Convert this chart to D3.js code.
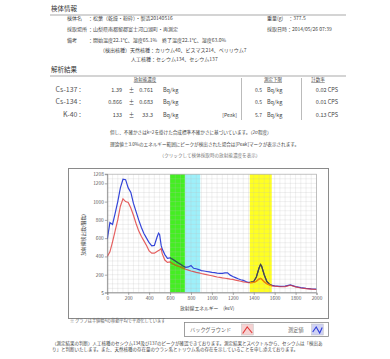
<!DOCTYPE html>
<html><head><meta charset="utf-8">
<script src="https://cdn.jsdelivr.net/npm/d3@7"></script>
<style>
html,body{margin:0;padding:0;background:#fff;}
svg text{font-family:"Noto Sans CJK JP","Noto Sans",sans-serif;fill:#444;}
</style></head><body>
<svg id="c" width="390" height="359"></svg>
<script>
// ---- data ----
const energies = [0,25,50,75,100,125,150,175,200,225,250,275,300,325,350,375,400,425,450,475,490,500,515,525,550,575,600,625,650,675,700,725,750,775,800,825,850,875,900,925,950,975,1000,1025,1050,1075,1100,1125,1150,1175,1200,1225,1250,1275,1300,1325,1350,1375,1400,1425,1450,1465,1475,1500,1525,1550,1575,1600,1650,1700,1750,1800,1850,1900,1950,2000];
const measured = [590,770,750,870,1000,1150,1245,1240,1150,1100,980,890,800,720,650,600,550,515,520,610,655,640,520,480,420,380,385,370,350,330,315,295,280,285,300,270,265,255,245,240,235,230,225,222,218,215,215,220,220,195,180,168,155,145,138,125,115,118,125,175,270,312,295,200,125,95,82,78,72,74,88,70,58,50,45,42];
const background = [400,450,560,680,800,950,1030,1000,990,930,850,760,680,620,570,520,460,435,435,455,465,470,485,430,360,335,340,320,305,295,285,272,260,250,240,233,226,220,213,207,200,194,188,181,175,170,165,161,157,152,148,141,135,128,122,117,112,113,115,128,152,158,152,122,100,88,78,74,68,70,84,66,54,47,42,38];
const bands = [
  {from:600, to:742, color:"#44ee22", blue:"#2f6a34", red:"#9a8a10"},
  {from:742, to:888, color:"#9ef0fa", blue:null, red:null},
  {from:1362, to:1572, color:"#ffff22", blue:"#4a4a3a", red:"#f08c00"}
];
const yTicks = [5,200,400,600,800,1000,1200];
const yTopLabel = "1208";
const xTicks = [0,200,400,600,800,1000,1200,1400,1600,1800,2000];

const infoRows = [
  {label:"検体名", value:"：松葉（乾燥・粉砕）・製造20140516", y:18},
  {label:"採取場所", value:"：山梨県南都留郡富士河口湖町・再測定", y:29},
  {label:"備考", value:"：開始温度22.1℃、湿度65.1%　終了温度22.1℃、湿度63.0%", y:40}
];
const resultNuclides = ["Cs-137 :","Cs-134 :","K-40 :"];
const resultValues = ["1.39","0.866","133"];
const resultErrors = ["0.761","0.683","33.3"];
const resultPeak = ["","","[Peak]"];
const limits = ["0.5","0.5","5.7"];
const rates = ["0.02 CPS","0.01 CPS","0.13 CPS"];

const svg = d3.select("#c");
const T = (x,y,s,size,opt={})=>{
  const t = svg.append("text").attr("x",x).attr("y",y).text(s).style("font-size",size+"px");
  if(opt.anchor) t.attr("text-anchor",opt.anchor);
  if(opt.fill) t.style("fill",opt.fill);
  if(opt.deco) t.style("text-decoration",opt.deco);
  return t;
};

// ---- header section ----
T(51,11,"検体情報",6.5,{fill:"#333"});
svg.append("line").attr("x1",50).attr("x2",346).attr("y1",15).attr("y2",15).attr("stroke","#aaa").attr("stroke-width",1.2);
infoRows.forEach(r=>{ T(67,r.y+2,r.label,5); T(88,r.y+2,r.value,5); });
T(267,20,"重量(g)　：377.5",5);
T(267,31,"採取日時：2014/05/26 07:39",5);
T(100,52,"（検出核種）天然核種：カリウム40、ビスマス214、ベリリウム7",5);
T(131,61,"人工核種：セシウム134、セシウム137",5);

T(51,72,"解析結果",6.5,{fill:"#333"});
svg.append("line").attr("x1",50).attr("x2",346).attr("y1",76).attr("y2",76).attr("stroke","#aaa").attr("stroke-width",1.2);
T(145,81,"放射能濃度",4.5,{anchor:"middle",deco:"underline"});
T(273,81,"測定下限",4.5,{anchor:"middle",deco:"underline"});
T(318,81,"計数率",4.5,{anchor:"middle",deco:"underline"});
[241.5,301.5].forEach(x=>svg.append("line").attr("x1",x).attr("x2",x).attr("y1",78).attr("y2",120).attr("stroke","#aaa").attr("stroke-width",0.8));
resultNuclides.forEach((n,i)=>{
  const y = 92 + i*12.4;
  T(81,y,n,7,{anchor:"end",fill:"#555"});
  T(122,y,resultValues[i],5.5,{anchor:"end"});
  T(131.5,y,"±",5.5,{anchor:"middle"});
  T(153,y,resultErrors[i],5.5,{anchor:"end"});
  T(163,y,"Bq/kg",5.5);
  if(resultPeak[i]) T(237,y,resultPeak[i],5,{anchor:"end"});
  T(262,y,limits[i],5,{anchor:"end"});
  T(267,y,"Bq/kg",5.5);
  T(338,y,rates[i],5.5,{anchor:"end"});
});
T(110,133.5,"但し、不確かさはk=2を掛けた合成標準不確かさに基づいています。（2σ程度）",4.6);
T(110,145.5,"理論値±3.0%のエネルギー範囲にピークが検出された場合は[Peak]マークが表示されます。",4.6);
T(210,157,"（クリックして検体採取時の放射能濃度を表示）",4.6,{anchor:"middle",fill:"#777"});

// ---- chart box ----
svg.append("rect").attr("x",68.5).attr("y",168.5).attr("width",260).attr("height",150)
  .attr("fill","#fff").attr("stroke","#8a8a8a").attr("stroke-width",1);

const L=107.3,R=316.5,TOP=174.2,BOT=292.5;
const x = d3.scaleLinear().domain([0,2000]).range([L,R]);
const y = d3.scaleLinear().domain([5,1300]).range([BOT,TOP]);

const g = svg.append("g");
// bands
bands.forEach(b=>g.append("rect").attr("x",x(b.from)).attr("y",TOP).attr("width",x(b.to)-x(b.from)).attr("height",BOT-TOP).attr("fill",b.color));
// grid
const gx = d3.range(0,2001,50), gy = d3.range(50,1300,50);
g.selectAll(".vg").data(gx).join("line").attr("x1",d=>x(d)).attr("x2",d=>x(d)).attr("y1",TOP).attr("y2",BOT)
  .attr("stroke","#bbb").attr("stroke-opacity",0.45).attr("stroke-width",0.5);
g.selectAll(".hg").data(gy).join("line").attr("x1",L).attr("x2",R).attr("y1",d=>y(d)).attr("y2",d=>y(d))
  .attr("stroke","#bbb").attr("stroke-opacity",0.45).attr("stroke-width",0.5);
g.append("rect").attr("x",L).attr("y",TOP).attr("width",R-L).attr("height",BOT-TOP).attr("fill","none").attr("stroke","#aaa").attr("stroke-width",0.7);

// clip paths
const defs = svg.append("defs");
defs.append("clipPath").attr("id","plotclip").append("rect").attr("x",L).attr("y",TOP-10).attr("width",R-L).attr("height",BOT-TOP+10);
bands.forEach((b,i)=>defs.append("clipPath").attr("id","bc"+i).append("rect").attr("x",x(b.from)).attr("y",TOP).attr("width",x(b.to)-x(b.from)).attr("height",BOT-TOP));

const line = (vals)=>d3.line().x((d,i)=>x(energies[i])).y(d=>y(d)).curve(d3.curveLinear)(vals);
const lg = svg.append("g").attr("clip-path","url(#plotclip)");
lg.append("path").attr("d",line(measured)).attr("fill","none").attr("stroke","#3344d8").attr("stroke-width",1.2);
lg.append("path").attr("d",line(background)).attr("fill","none").attr("stroke","#e03a3a").attr("stroke-width",1.2).attr("stroke-opacity",0.8);
bands.forEach((b,i)=>{
  if(!b.blue) return;
  const bg = svg.append("g").attr("clip-path","url(#bc"+i+")");
  bg.append("path").attr("d",line(measured)).attr("fill","none").attr("stroke",b.blue).attr("stroke-width",1.2);
  bg.append("path").attr("d",line(background)).attr("fill","none").attr("stroke",b.red).attr("stroke-width",1.2);
});

// axes
const ya = svg.append("g").attr("transform",`translate(${L},0)`).call(d3.axisLeft(y).tickValues(yTicks).tickFormat(d3.format("d")).tickSize(2.5).tickPadding(1));
svg.append("text").attr("x",L-3.5).attr("y",TOP+1.8).attr("text-anchor","end").text(yTopLabel).style("font-size","4.8px").style("fill","#555");
svg.append("line").attr("x1",L-2.5).attr("x2",L).attr("y1",TOP).attr("y2",TOP).attr("stroke","#777").attr("stroke-width",0.6);
const xa = svg.append("g").attr("transform",`translate(0,${BOT})`).call(d3.axisBottom(x).tickValues(xTicks).tickFormat(d3.format("d")).tickSize(2.5).tickPadding(1.5));
[ya,xa].forEach(a=>{
  a.select(".domain").attr("stroke","#777").attr("stroke-width",0.6);
  a.selectAll(".tick line").attr("stroke","#777").attr("stroke-width",0.6);
  a.selectAll(".tick text").style("font-size","4.8px").style("fill","#555").style("font-family","'Noto Sans CJK JP',sans-serif");
});
svg.append("text").attr("transform","translate(85,235) rotate(-90)").attr("text-anchor","middle").text("放射線検出数(個数)").style("font-size","4.8px");
T(180,310,"放射線エネルギー　(keV)",4.8);

// legend
T(70,322,"※ グラフは半値幅4の移動平均で平滑化しています",4.2,{fill:"#666"});
svg.append("rect").attr("x",184.5).attr("y",322.5).attr("width",144).attr("height",14).attr("fill","#fff").attr("stroke","#888").attr("stroke-width",0.8);
T(190,331.5,"バックグラウンド",5.2,{fill:"#666"});
T(288,331.5,"測定値",5.2,{fill:"#666"});
const icon=(x0,fill,stroke,pts)=>{
  svg.append("rect").attr("x",x0).attr("y",324).attr("width",11.5).attr("height",11).attr("fill",fill).attr("stroke","#bbb").attr("stroke-width",0.5);
  svg.append("path").attr("d",d3.line()(pts.map(p=>[x0+p[0],324+p[1]]))).attr("fill","none").attr("stroke",stroke).attr("stroke-width",1.1);
};
icon(241.7,"#f6d2d2","#e03a3a",[[1,9.5],[5.5,3],[10.5,9]]);
icon(311.7,"#cfd2f4","#2f3ed8",[[1,8],[4.5,3],[8,9],[10.5,3.5]]);

T(52,344.5,"（測定結果の判断）人工核種のセシウム134及び137のピークが確認できております。測定結果とスペクトルから、セシウムは「検出あ",4.5);
T(52,350.5,"り」と判断いたします。また、天然核種の存在量のウラン系とトリウム系の存在を示していることを申し添えております。",4.5);
</script>
</body></html>
